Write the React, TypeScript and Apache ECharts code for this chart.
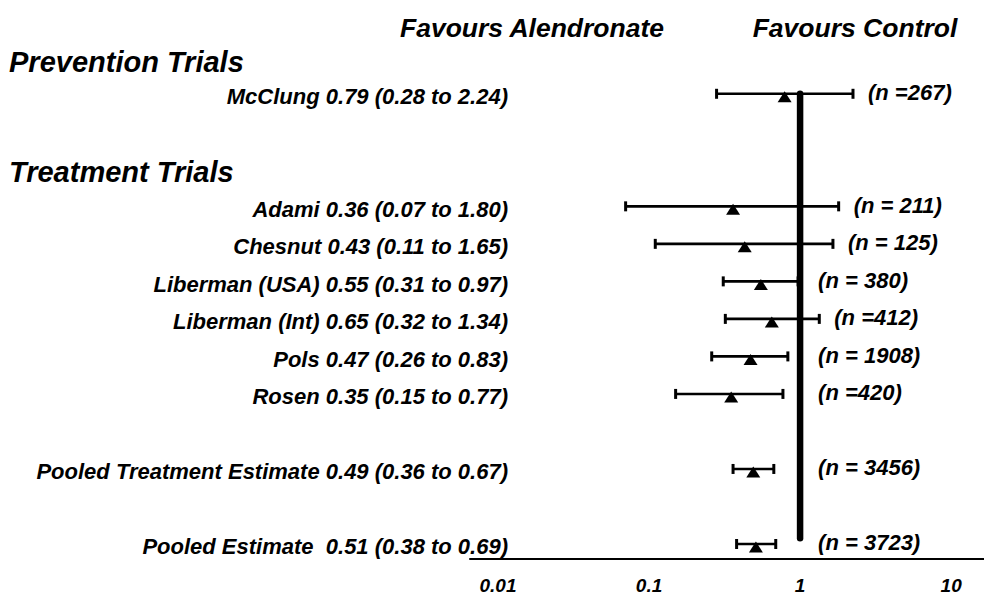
import React, { useEffect, useRef } from "react";
import * as echarts from "echarts";

const studies = [
  "McClung",
  "Adami",
  "Chesnut",
  "Liberman (USA)",
  "Liberman (Int)",
  "Pols",
  "Rosen",
  "Pooled Treatment Estimate",
  "Pooled Estimate ",
];
const estimates = [0.79, 0.36, 0.43, 0.55, 0.65, 0.47, 0.35, 0.49, 0.51];
const lowerCI = [0.28, 0.07, 0.11, 0.31, 0.32, 0.26, 0.15, 0.36, 0.38];
const upperCI = [2.24, 1.8, 1.65, 0.97, 1.34, 0.83, 0.77, 0.67, 0.69];
const sampleSizes = ["(n =267)", "(n = 211)", "(n = 125)", "(n = 380)", "(n =412)", "(n = 1908)", "(n =420)", "(n = 3456)", "(n = 3723)"];
const rowIndex = [0, 3, 4, 5, 6, 7, 8, 10, 12];
const sectionHeaders = ["Prevention Trials", "Treatment Trials"];
const favourLabels = ["Favours Alendronate", "Favours Control"];
const refValue = 1;
const refLineRows = [0, 11.85];

const FONT = '"Liberation Sans", Arial, sans-serif';
const LABEL_RIGHT = 508;

const rowLabel = (i: number) =>
  `${studies[i]} ${estimates[i].toFixed(2)} (${lowerCI[i].toFixed(2)} to ${upperCI[i].toFixed(2)})`;

export default function App() {
  const ref = useRef<HTMLDivElement>(null);
  useEffect(() => {
    if (!ref.current) return;
    const chart = echarts.init(ref.current, null, { renderer: "svg" });
    const textBase = { fill: "#000", fontFamily: FONT, fontWeight: "bold", fontStyle: "italic" };
    chart.setOption({
      animation: false,
      grid: { left: 470, right: 0, top: 0, bottom: 35 },
      xAxis: {
        type: "log",
        logBase: 10,
        min: 0.00653,
        max: 16.5,
        axisLine: { onZero: false, lineStyle: { color: "#000", width: 2 } },
        axisTick: { show: false },
        splitLine: { show: false },
        axisLabel: {
          showMinLabel: false,
          showMaxLabel: false,
          margin: 17,
          color: "#000",
          fontSize: 19,
          fontWeight: "bold",
          fontStyle: "italic",
          fontFamily: FONT,
          formatter: (v: number) => {
            const l = Math.log10(v);
            return Math.abs(l - Math.round(l)) < 1e-6 ? String(Number(v.toPrecision(6))) : "";
          },
        },
      },
      yAxis: { type: "value", inverse: true, min: -2.5, max: 12.4, show: false },
      series: [
        {
          type: "line",
          data: refLineRows.map((r) => [refValue, r]),
          symbol: "none",
          lineStyle: { color: "#000", width: 6.5, cap: "round" },
          silent: true,
        },
        {
          type: "custom",
          encode: { x: [0, 1], y: 2 },
          data: studies.map((_, i) => [lowerCI[i], upperCI[i], rowIndex[i], i]),
          renderItem: (params: any, api: any) => {
            const i = api.value(3);
            const row = api.value(2);
            const pLo = api.coord([api.value(0), row]);
            const pHi = api.coord([api.value(1), row]);
            const pRef = api.coord([refValue, row]);
            const cy = pLo[1];
            return {
              type: "group",
              children: [
                { type: "line", shape: { x1: pLo[0], y1: cy, x2: pHi[0], y2: cy }, style: { stroke: "#000", lineWidth: 2.6 } },
                { type: "line", shape: { x1: pLo[0], y1: cy - 5, x2: pLo[0], y2: cy + 5 }, style: { stroke: "#000", lineWidth: 3 } },
                { type: "line", shape: { x1: pHi[0], y1: cy - 5, x2: pHi[0], y2: cy + 5 }, style: { stroke: "#000", lineWidth: 3 } },
                {
                  type: "text",
                  x: LABEL_RIGHT,
                  y: cy + 3,
                  style: { ...textBase, text: rowLabel(i), fontSize: 22, align: "right", verticalAlign: "middle" },
                },
                {
                  type: "text",
                  x: Math.max(pHi[0], pRef[0] + 3) + 15,
                  y: cy - 1,
                  style: { ...textBase, text: sampleSizes[i], fontSize: 22, align: "left", verticalAlign: "middle" },
                },
              ],
            };
          },
        },
        {
          type: "scatter",
          data: estimates.map((e, i) => [e, rowIndex[i]]),
          symbol: "triangle",
          symbolSize: [14, 11],
          symbolOffset: [0, 3],
          itemStyle: { color: "#000", opacity: 1 },
          z: 5,
        },
      ],
      graphic: [
        { type: "text", x: 532, y: 28, style: { ...textBase, text: favourLabels[0], fontSize: 26.5, align: "center", verticalAlign: "middle" } },
        { type: "text", x: 855, y: 28, style: { ...textBase, text: favourLabels[1], fontSize: 26.5, align: "center", verticalAlign: "middle" } },
        { type: "text", x: 9, y: 62, style: { ...textBase, text: sectionHeaders[0], fontSize: 29, align: "left", verticalAlign: "middle" } },
        { type: "text", x: 9, y: 172, style: { ...textBase, text: sectionHeaders[1], fontSize: 29, align: "left", verticalAlign: "middle" } },
      ],
    });
    return () => chart.dispose();
  }, []);
  return <div ref={ref} style={{ position: "fixed", left: 0, top: 0, width: 984, height: 595, background: "#fff" }} />;
}
